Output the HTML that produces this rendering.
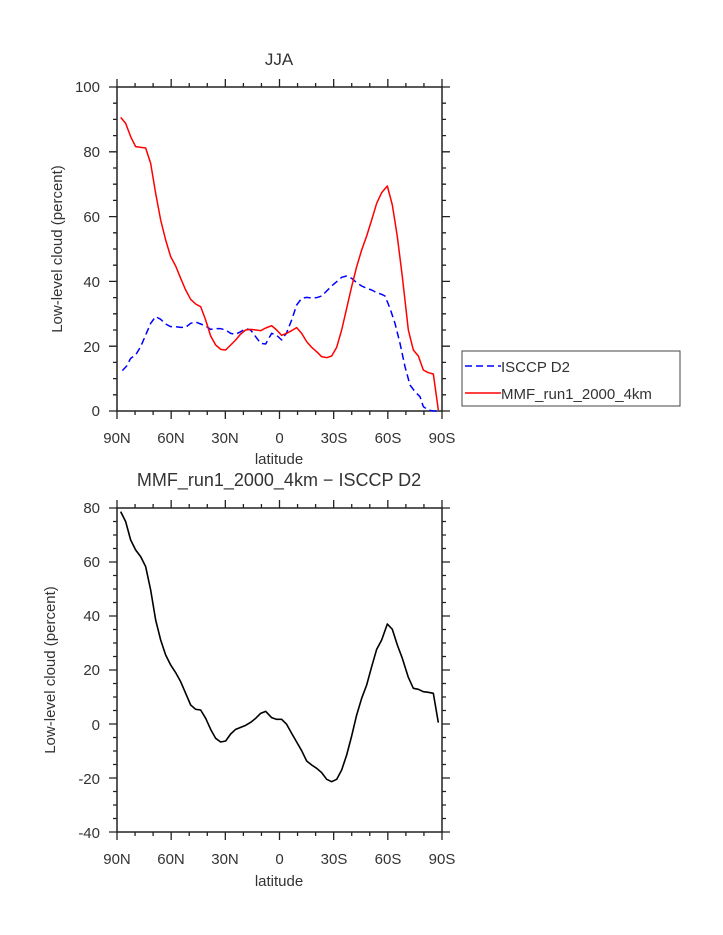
<!DOCTYPE html>
<html><head><meta charset="utf-8"><style>
html,body{margin:0;padding:0;background:#fff;}
svg{display:block;}
text{font-family:"Liberation Sans",sans-serif;fill:#333;}
</style></head><body>
<svg id="s" width="723" height="935" viewBox="0 0 723 935" xmlns="http://www.w3.org/2000/svg">
<rect width="723" height="935" fill="#fff"/>
<text x="279" y="65" font-size="17" text-anchor="middle">JJA</text>
<text x="279" y="486" font-size="18" text-anchor="middle">MMF_run1_2000_4km − ISCCP D2</text>
<g id="ticks" stroke="#222" stroke-width="1.3" fill="none"></g>
<rect x="117" y="87" width="325" height="324" fill="none" stroke="#222" stroke-width="1.5"/>
<rect x="117" y="508" width="325" height="324" fill="none" stroke="#222" stroke-width="1.5"/>
<g font-size="15" text-anchor="end">
<text x="100" y="92">100</text><text x="100" y="157">80</text><text x="100" y="222">60</text><text x="100" y="287">40</text><text x="100" y="352">20</text><text x="100" y="416">0</text>
<text x="100" y="513">80</text><text x="100" y="567">60</text><text x="100" y="621">40</text><text x="100" y="675">20</text><text x="100" y="730">0</text><text x="100" y="784">-20</text><text x="100" y="838">-40</text>
</g>
<g font-size="15" text-anchor="middle">
<text x="117" y="443">90N</text><text x="171" y="443">60N</text><text x="225" y="443">30N</text><text x="279.5" y="443">0</text><text x="334" y="443">30S</text><text x="388" y="443">60S</text><text x="442" y="443">90S</text>
<text x="279" y="464">latitude</text>
<text x="117" y="864">90N</text><text x="171" y="864">60N</text><text x="225" y="864">30N</text><text x="279.5" y="864">0</text><text x="334" y="864">30S</text><text x="388" y="864">60S</text><text x="442" y="864">90S</text>
<text x="279" y="886">latitude</text>
</g>
<text font-size="15" text-anchor="middle" transform="translate(62,249) rotate(-90)">Low-level cloud (percent)</text>
<text font-size="15" text-anchor="middle" transform="translate(55,670) rotate(-90)">Low-level cloud (percent)</text>

<g transform="translate(80,60) scale(0.33333)" fill="none" stroke-linejoin="round">
<polyline vector-effect="non-scaling-stroke" stroke="#0000ff" stroke-width="1.5" stroke-dasharray="7,4" points="127,932 140,918 152,895 167,885 182,860 197,825 212,790 227,770 242,778 257,792 272,800 287,800 302,802 317,802 332,790 347,786 362,792 377,798 392,808 407,806 422,806 437,810 452,820 467,823 482,815 497,806 512,810 527,830 542,850 557,852 575,820 590,826 605,840 620,818 635,780 650,735 665,715 680,712 695,714 710,713 725,708 740,693 755,678 770,665 785,652 800,648 815,655 830,668 845,678 860,685 875,690 890,698 905,703 915,708 930,745 945,790 960,850 975,920 990,975 1005,995 1020,1010 1030,1040 1045,1050 1060,1053 1075,1053"/>
<polyline vector-effect="non-scaling-stroke" stroke="#ff0000" stroke-width="1.5" points="122,172 137,190 152,230 167,260 183,262 197,264 212,310 227,400 242,480 257,540 272,590 287,618 302,655 317,690 332,718 347,732 362,740 377,780 392,828 407,855 422,868 437,870 452,855 467,840 482,822 497,810 512,808 527,810 542,812 557,804 575,797 590,810 605,826 620,820 635,812 650,803 665,820 680,845 695,862 710,875 725,890 740,893 755,888 770,862 785,810 800,745 815,680 830,620 845,570 860,528 875,480 890,430 905,398 922,378 937,435 952,530 967,650 985,810 1000,870 1015,888 1030,930 1045,938 1060,942 1075,1050"/>
</g>
<g transform="translate(80,480) scale(0.33333)" fill="none" stroke-linejoin="round">
<polyline vector-effect="non-scaling-stroke" stroke="#000" stroke-width="1.6" points="122,95 137,125 152,180 167,210 182,230 197,260 212,330 227,420 242,480 257,525 272,555 287,578 302,605 317,640 332,675 347,688 362,690 377,715 392,748 407,775 422,786 437,783 452,762 467,748 482,742 497,736 512,727 527,715 542,700 557,694 575,713 590,718 605,718 620,733 635,760 650,786 665,812 680,843 695,855 710,865 725,878 740,898 755,905 770,898 785,870 800,825 815,768 830,705 845,655 860,615 875,560 890,508 905,480 922,432 937,448 952,495 967,535 985,592 1000,625 1015,628 1030,635 1045,637 1060,640 1075,728"/>
</g>

<rect x="462" y="351" width="218" height="55" fill="#fff" stroke="#444" stroke-width="1"/>
<line x1="465" y1="366" x2="501" y2="366" stroke="#0000ff" stroke-width="1.5" stroke-dasharray="7,4"/>
<line x1="465" y1="393" x2="501" y2="393" stroke="#ff0000" stroke-width="1.5"/>
<text x="501" y="372" font-size="15">ISCCP D2</text>
<text x="501" y="399" font-size="15">MMF_run1_2000_4km</text>
</svg>
<script>
(function(){
var g=document.getElementById('ticks'),d='';
function plot(top,bot,nmin,nmaj){
  var L=117,R=442;
  for(var i=0;i<=18;i++){var x=L+i*(R-L)/18,len=(i%3==0)?8:4;
    d+='M'+x+' '+top+'v'+(-len)+'M'+x+' '+bot+'v'+len;}
  for(var j=0;j<=nmin;j++){var y=top+j*(bot-top)/nmin,len=(j%4==0)?8:4;
    d+='M'+L+' '+y+'h'+(-len)+'M'+R+' '+y+'h'+len;}
}
plot(87,411,20);plot(508,832,24);
var p=document.createElementNS('http://www.w3.org/2000/svg','path');p.setAttribute('d',d);g.appendChild(p);
})();
</script>
</body></html>
